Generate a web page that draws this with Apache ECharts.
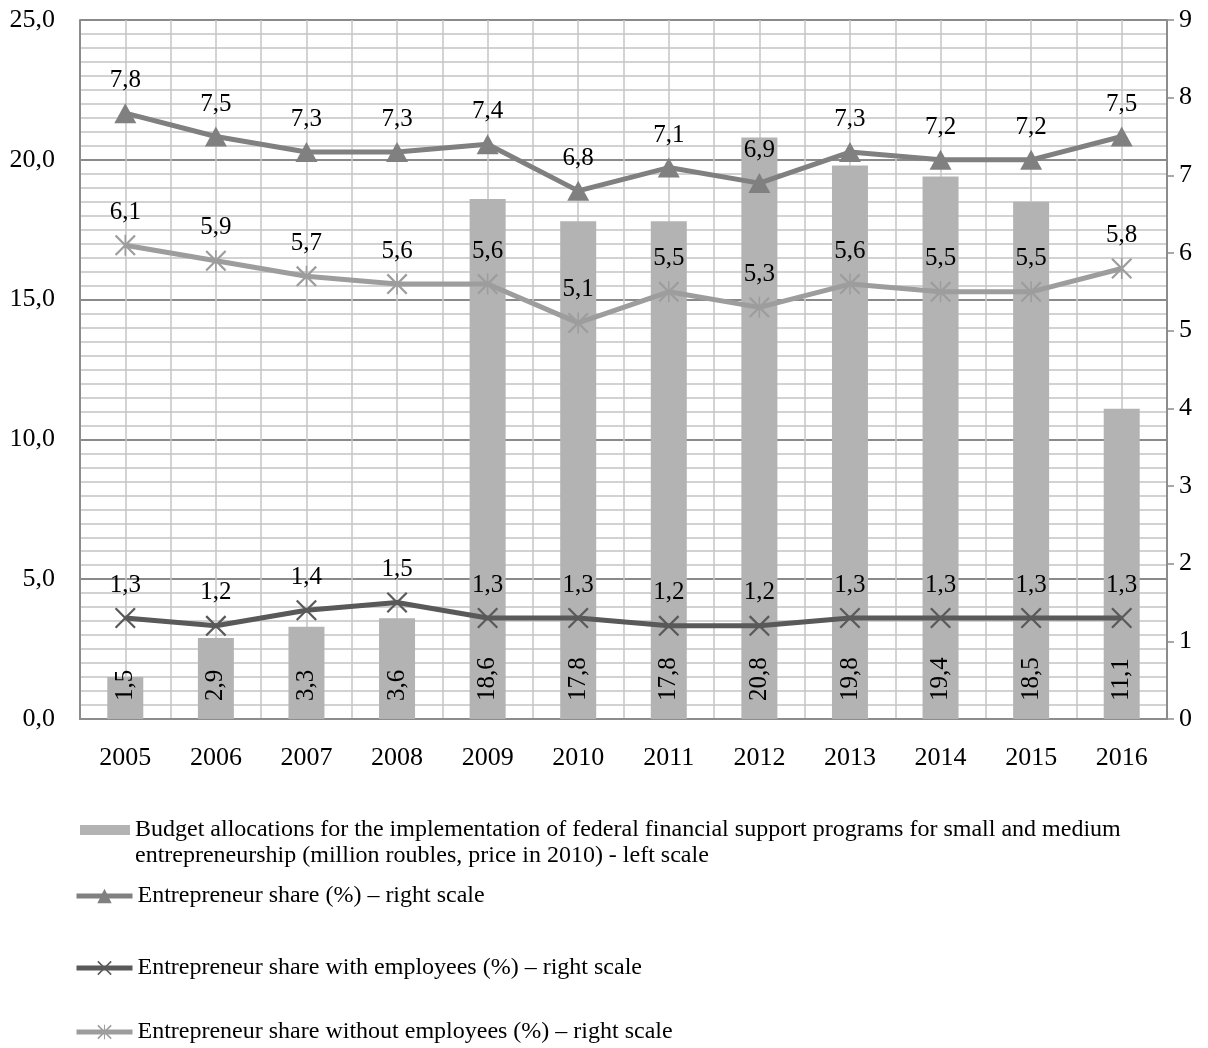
<!DOCTYPE html>
<html>
<head>
<meta charset="utf-8">
<script src="https://cdn.jsdelivr.net/npm/echarts@6/dist/echarts.min.js"></script>
<style>
html, body { margin: 0; padding: 0; background: #ffffff; }
#chart { width: 1208px; height: 1048px; }
</style>
</head>
<body>
<div id="chart"></div>
<script>
// Years on the horizontal axis
const years = ['2005', '2006', '2007', '2008', '2009', '2010', '2011', '2012', '2013', '2014', '2015', '2016'];

// Budget allocations, million roubles in 2010 prices (left scale)
const budget = [1.5, 2.9, 3.3, 3.6, 18.6, 17.8, 17.8, 20.8, 19.8, 19.4, 18.5, 11.1];

// Entrepreneur shares, % (right scale)
const shareAll = [7.8, 7.5, 7.3, 7.3, 7.4, 6.8, 7.1, 6.9, 7.3, 7.2, 7.2, 7.5];
const shareWith = [1.3, 1.2, 1.4, 1.5, 1.3, 1.3, 1.2, 1.2, 1.3, 1.3, 1.3, 1.3];
const shareWithout = [6.1, 5.9, 5.7, 5.6, 5.6, 5.1, 5.5, 5.3, 5.6, 5.5, 5.5, 5.8];

// Series names
const nameBudget = 'Budget allocations for the implementation of federal financial support programs for small and medium entrepreneurship (million roubles, price in 2010) - left scale';
const nameAll = 'Entrepreneur share (%) – right scale';
const nameWith = 'Entrepreneur share with employees (%) – right scale';
const nameWithout = 'Entrepreneur share without employees (%) – right scale';

const FONT = '"Liberation Serif", "Times New Roman", serif';
const comma = v => Number(v).toFixed(1).replace('.', ',');

// Series colours
const cBar = '#b3b3b3';
const cAll = '#808080';
const cWith = '#595959';
const cWithout = '#9d9d9d';

// Marker shapes: a thin cross and a cross with a vertical bar (asterisk)
const crossPath = 'path://M0,1.5L1.5,0L20,18.5L18.5,20Z M18.5,0L20,1.5L1.5,20L0,18.5Z';
const starPath = 'path://M0,1.5L1.5,0L20,18.5L18.5,20Z M18.5,0L20,1.5L1.5,20L0,18.5Z M9.25,0L10.75,0L10.75,20L9.25,20Z';

const lineLabel = {
  show: true,
  position: 'top',
  distance: 10,
  fontFamily: FONT,
  fontSize: 25,
  color: '#000',
  formatter: p => comma(p.value)
};

const legendText = { fontFamily: FONT, fontSize: 24, color: '#000' };

const chart = echarts.init(document.getElementById('chart'), null, { renderer: 'canvas' });

chart.setOption({
  animation: false,
  backgroundColor: '#ffffff',
  grid: { left: 80, right: 41, top: 20, bottom: 329, containLabel: false },
  legend: [
    {
      // leading blank line keeps the swatch level with the first text line
      data: [nameBudget], left: 80, top: 791, padding: 0, icon: 'rect',
      itemWidth: 50, itemHeight: 10,
      formatter: () => '\nBudget allocations for the implementation of federal financial support programs for small and medium\nentrepreneurship (million roubles, price in 2010) - left scale',
      textStyle: Object.assign({ lineHeight: 26 }, legendText)
    },
    {
      data: [nameAll], left: 74, top: 884, padding: 0, itemWidth: 56, itemHeight: 18,
      lineStyle: { width: 5 },
      textStyle: legendText
    },
    {
      data: [nameWith], left: 74, top: 956, padding: 0, itemWidth: 56, itemHeight: 18,
      lineStyle: { width: 5 },
      textStyle: legendText
    },
    {
      data: [nameWithout], left: 74, top: 1020, padding: 0, itemWidth: 56, itemHeight: 18,
      lineStyle: { width: 5 },
      textStyle: legendText
    }
  ],
  xAxis: [
    {
      type: 'category',
      data: years,
      boundaryGap: true,
      axisLine: { show: true, lineStyle: { color: '#8c8c8c', width: 2 } },
      axisTick: { show: false },
      axisLabel: { fontFamily: FONT, fontSize: 26, color: '#000', margin: 26 },
      splitLine: { show: false }
    },
    {
      // vertical grid lines at every category centre and boundary
      type: 'value',
      position: 'top',
      min: 0, max: 24, interval: 1,
      axisLine: { show: false },
      axisTick: { show: false },
      axisLabel: { show: false },
      splitLine: { show: true, lineStyle: { color: '#c4c4c4', width: 1.5 } }
    }
  ],
  yAxis: [
    {
      type: 'value',
      min: 0, max: 25, interval: 5,
      axisLine: { show: true, lineStyle: { color: '#8c8c8c', width: 2 } },
      axisTick: { show: false },
      axisLabel: { fontFamily: FONT, fontSize: 26, color: '#000', margin: 25, formatter: v => comma(v) },
      splitLine: { show: true, lineStyle: { color: '#8a8a8a', width: 2 } },
      minorTick: { show: false, splitNumber: 10 },
      minorSplitLine: { show: true, lineStyle: { color: '#c4c4c4', width: 1.5 } }
    },
    {
      type: 'value',
      position: 'right',
      min: 0, max: 9, interval: 1,
      axisLine: { show: true, lineStyle: { color: '#8c8c8c', width: 2 } },
      axisTick: { show: true, inside: false, length: 7, lineStyle: { color: '#8c8c8c', width: 1.5 } },
      axisLabel: { fontFamily: FONT, fontSize: 26, color: '#000', margin: 12 },
      splitLine: { show: false }
    }
  ],
  series: [
    {
      name: nameBudget,
      type: 'bar',
      xAxisIndex: 0, yAxisIndex: 0,
      data: budget,
      barWidth: 36,
      itemStyle: { color: cBar },
      label: {
        show: true,
        position: 'insideBottom',
        rotate: 90,
        align: 'left',
        verticalAlign: 'middle',
        distance: 18,
        fontFamily: FONT, fontSize: 25, color: '#000',
        formatter: p => comma(p.value)
      },
      z: 2
    },
    {
      name: nameAll,
      type: 'line',
      xAxisIndex: 0, yAxisIndex: 1,
      data: shareAll,
      symbol: 'triangle', symbolSize: [22, 20],
      lineStyle: { color: cAll, width: 5 },
      itemStyle: { color: cAll },
      label: lineLabel,
      z: 4
    },
    {
      name: nameWith,
      type: 'line',
      xAxisIndex: 0, yAxisIndex: 1,
      data: shareWith,
      symbol: crossPath, symbolSize: 21,
      lineStyle: { color: cWith, width: 5 },
      itemStyle: { color: cWith },
      label: lineLabel,
      z: 4
    },
    {
      name: nameWithout,
      type: 'line',
      xAxisIndex: 0, yAxisIndex: 1,
      data: shareWithout,
      symbol: starPath, symbolSize: 21,
      lineStyle: { color: cWithout, width: 5 },
      itemStyle: { color: cWithout },
      label: lineLabel,
      z: 4
    }
  ]
});
</script>
</body>
</html>
